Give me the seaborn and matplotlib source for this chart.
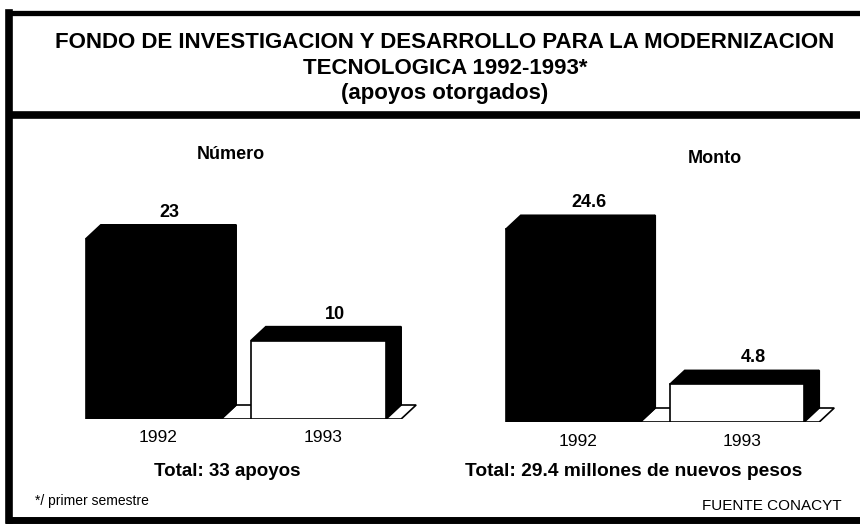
import matplotlib
matplotlib.use("Agg")
import matplotlib.pyplot as plt
import seaborn as sns
from matplotlib.patches import Polygon
from matplotlib import transforms as mtrans

# ---- data ----
years = ["1992", "1993"]
numero = [23, 10]
monto = [24.6, 4.8]
numero_labels = ["23", "10"]
monto_labels = ["24.6", "4.8"]
bar_colors = ["black", "white"]
title_lines = [
    "FONDO DE INVESTIGACION Y DESARROLLO PARA LA MODERNIZACION",
    "TECNOLOGICA 1992-1993*",
    "(apoyos otorgados)",
]

sns.set_theme(style="white")
plt.rcParams["font.family"] = ["Liberation Sans", "DejaVu Sans"]
plt.rcParams["text.color"] = "black"

W, H = 860, 528
fig = plt.figure(figsize=(W / 100, H / 100), dpi=100)
fig.patch.set_facecolor("white")

# ---- frame ----
bg = fig.add_axes([0, 0, 1, 1])
bg.set_xlim(0, W)
bg.set_ylim(H, 0)
bg.set_axis_off()
bg.plot([9, 880], [13, 13], color="black", lw=3.8, solid_capstyle="projecting")
bg.plot([9, 9], [13, 520], color="black", lw=5.5, solid_capstyle="projecting")
bg.plot([9, 880], [520, 520], color="black", lw=5, solid_capstyle="projecting")
bg.plot([9, 880], [115, 115], color="black", lw=5.5, solid_capstyle="butt")


def ftext(x, y, s, **kw):
    fig.text(x / W, 1 - y / H, s, ha=kw.pop("ha", "center"), va=kw.pop("va", "center"), **kw)


for y, line in zip([43, 68, 93], title_lines):
    ftext(445, y, line, fontsize=16, fontweight="bold")

ftext(231, 154, "Número", fontsize=13, fontweight="bold")
ftext(715, 158, "Monto", fontsize=13, fontweight="bold")
ftext(227, 472, f"Total: {sum(numero)} apoyos", fontsize=13.5, fontweight="bold")
ftext(634, 472, f"Total: {sum(monto):.1f} millones de nuevos pesos", fontsize=13.8, fontweight="bold")
ftext(35, 501, "*/ primer semestre", fontsize=10, ha="left")
ftext(772, 506, "FUENTE CONACYT", fontsize=11)

DX_PX, DY_PX = 15, 14


def draw_panel(left_px, floor_px, unit_px, values, labels):
    xlim = (-0.6, 1.65)
    ylim = (0, 30)
    width_px = (xlim[1] - xlim[0]) * unit_px
    height_px = 235
    ax = fig.add_axes([left_px / W, (H - floor_px) / H, width_px / W, height_px / H])
    sns.barplot(x=years, y=values, hue=years, palette=bar_colors, width=0.82,
                saturation=1, edgecolor="black", linewidth=1.2, legend=False, ax=ax)
    ax.set_xlim(*xlim)
    ax.set_ylim(*ylim)
    ax.set_axis_off()
    p0 = ax.transData.transform((0, 0))
    p1 = ax.transData.transform((1, 1))
    dx = DX_PX / (p1[0] - p0[0])
    dy = DY_PX / (p1[1] - p0[1])
    bars = sorted(ax.patches, key=lambda p: p.get_x())
    for b in bars:
        b.set_zorder(3)
    xa = bars[0].get_x() + bars[0].get_width()
    xb = bars[-1].get_x() + bars[-1].get_width() + dx
    ax.add_patch(Polygon([(xa, 0), (xb, 0), (xb + dx, dy), (xa + dx, dy)], closed=True,
                         fc="white", ec="black", lw=1.2, zorder=1))
    lab_tr = mtrans.offset_copy(ax.transData, fig=fig, x=16, y=DY_PX + 4, units="dots")
    yr_tr = mtrans.offset_copy(ax.transData, fig=fig, x=5, y=-19, units="dots")
    for b, lab, yr in zip(bars, labels, years):
        x0 = b.get_x()
        x1 = x0 + b.get_width()
        h = b.get_height()
        ax.add_patch(Polygon([(x0, h), (x1, h), (x1 + dx, h + dy), (x0 + dx, h + dy)], closed=True,
                             fc="black", ec="black", lw=1.2, zorder=2))
        ax.add_patch(Polygon([(x1, 0), (x1, h), (x1 + dx, h + dy), (x1 + dx, dy)], closed=True,
                             fc="black", ec="black", lw=1.2, zorder=2))
        ax.text((x0 + x1) / 2, h, lab, transform=lab_tr, ha="center", va="bottom",
                fontsize=13, fontweight="bold", clip_on=False)
        ax.text((x0 + x1) / 2, 0, yr, transform=yr_tr, ha="center", va="center",
                fontsize=12.5, clip_on=False)
    return ax


draw_panel(54.5, 419, 165, numero, numero_labels)
draw_panel(474.6, 422, 164, monto, monto_labels)

fig.savefig("out.png", dpi=100, facecolor="white")
